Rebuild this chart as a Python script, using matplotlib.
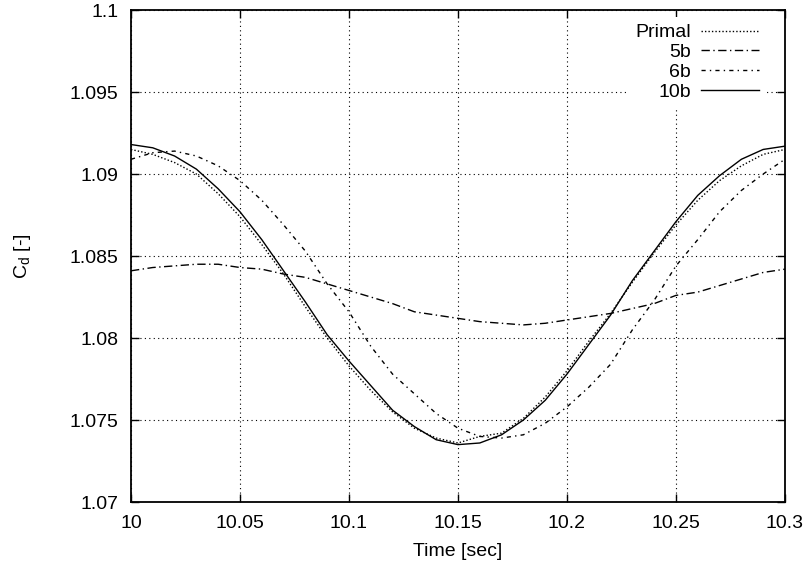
import matplotlib
matplotlib.use('Agg')
import matplotlib.pyplot as plt

plt.rcParams['font.family'] = ['Liberation Sans', 'DejaVu Sans']
plt.rcParams['mathtext.fontset'] = 'custom'
plt.rcParams['mathtext.rm'] = 'Liberation Sans'
plt.rcParams['mathtext.it'] = 'Liberation Sans'

# time axis
time = [10.00, 10.01, 10.02, 10.03, 10.04, 10.05, 10.06, 10.07, 10.08, 10.09,
        10.10, 10.11, 10.12, 10.13, 10.14, 10.15, 10.16, 10.17, 10.18, 10.19,
        10.20, 10.21, 10.22, 10.23, 10.24, 10.25, 10.26, 10.27, 10.28, 10.29, 10.30]

primal = [1.0915, 1.0912, 1.0907, 1.0900, 1.0888, 1.0874, 1.0857, 1.0839, 1.0819, 1.0800,
          1.0783, 1.0768, 1.0755, 1.0745, 1.0739, 1.0736, 1.0740, 1.0742, 1.0751, 1.0764,
          1.0780, 1.0798, 1.0815, 1.0834, 1.0852, 1.0869, 1.0884, 1.0896, 1.0905, 1.0912, 1.0915]

cd_5b = [1.0841, 1.0843, 1.0844, 1.0845, 1.0845, 1.0843, 1.0842, 1.0839, 1.0837, 1.0833,
         1.0829, 1.0825, 1.0821, 1.0816, 1.0814, 1.0812, 1.0810, 1.0809, 1.0808, 1.0809,
         1.0811, 1.0813, 1.0815, 1.0818, 1.0821, 1.0826, 1.0828, 1.0832, 1.0836, 1.0840, 1.0842]

cd_6b = [1.0909, 1.0913, 1.0914, 1.0911, 1.0905, 1.0896, 1.0884, 1.0869, 1.0853, 1.0833,
         1.0816, 1.0795, 1.0778, 1.0766, 1.0754, 1.0745, 1.0740, 1.0739, 1.0741, 1.0748,
         1.0758, 1.0770, 1.0784, 1.0805, 1.0823, 1.0844, 1.0860, 1.0877, 1.0890, 1.0900, 1.0909]

cd_10b = [1.0918, 1.0916, 1.0911, 1.0903, 1.0891, 1.0877, 1.0860, 1.0841, 1.0822, 1.0802,
          1.0786, 1.0771, 1.0756, 1.0746, 1.0738, 1.0735, 1.0736, 1.0741, 1.0750, 1.0762,
          1.0778, 1.0796, 1.0814, 1.0835, 1.0853, 1.0871, 1.0887, 1.0899, 1.0909, 1.0915, 1.0917]

xticks = [10, 10.05, 10.1, 10.15, 10.2, 10.25, 10.3]
xticklabels = ['10', '10.05', '10.1', '10.15', '10.2', '10.25', '10.3']
yticks = [1.07, 1.075, 1.08, 1.085, 1.09, 1.095, 1.1]
yticklabels = ['1.07', '1.075', '1.08', '1.085', '1.09', '1.095', '1.1']

fig = plt.figure(figsize=(8.09, 5.71), dpi=100)
ax = fig.add_axes([0.1619, 0.1208, 0.8084, 0.8616])

ax.plot(time, primal, color='black', lw=1, linestyle=(0, (1, 1.5)), label='Primal')
ax.plot(time, cd_5b, color='black', lw=1, linestyle=(0, (6, 2.5, 1, 2.5)), label='5b')
ax.plot(time, cd_6b, color='black', lw=1, linestyle=(0, (3, 3, 1, 3)), label='6b')
ax.plot(time, cd_10b, color='black', lw=1, linestyle='-', label='10b')

ax.set_xlim(10, 10.3)
ax.set_ylim(1.07, 1.1)
ax.set_xticks(xticks)
ax.set_xticklabels(xticklabels)
ax.set_yticks(yticks)
ax.set_yticklabels(yticklabels)
ax.tick_params(direction='in', length=6, width=1, top=True, right=True, labelsize=14, pad=9)
ax.grid(True, color='black', linestyle=(0, (1, 3)), lw=0.8)
for s in ax.spines.values():
    s.set_linewidth(1.3)

ax.set_xlabel('Time [sec]', fontsize=14, labelpad=8)
ax.set_ylabel('C$_\\mathregular{d}$ [-]', fontsize=14, labelpad=26)

leg = ax.legend(loc='upper right', bbox_to_anchor=(0.971, 0.986), markerfirst=False,
                fontsize=14, frameon=True, fancybox=False, edgecolor='none', framealpha=1,
                handlelength=3.0, handletextpad=0.5, labelspacing=0.12, borderpad=0.35,
                borderaxespad=0)
leg.get_frame().set_linewidth(0)

fig.savefig('out.png', dpi=100)
